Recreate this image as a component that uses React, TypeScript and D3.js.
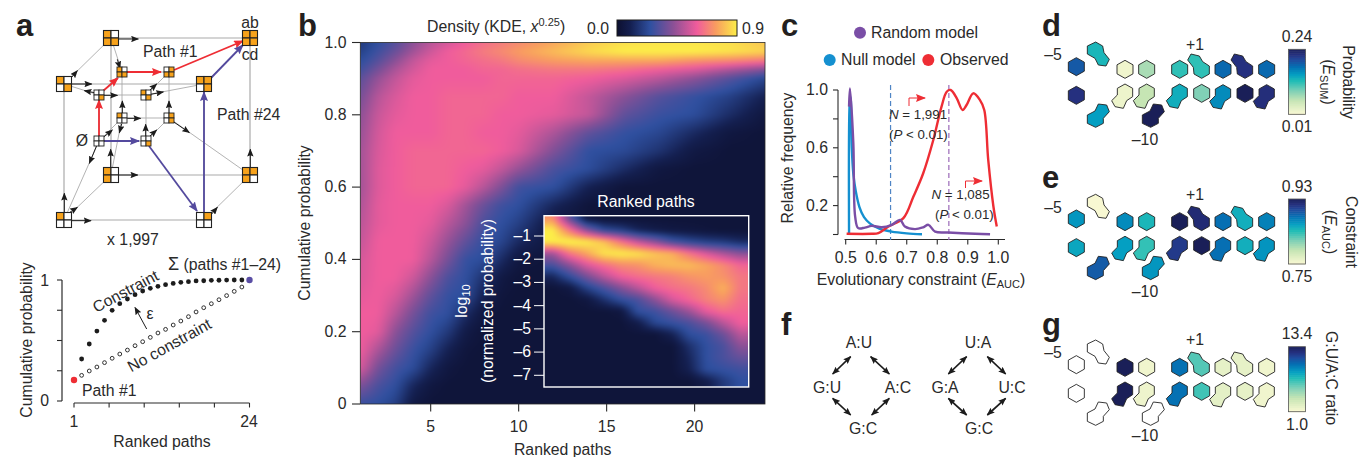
import React, { useMemo } from 'react';
import * as d3 from 'd3';

const FONT = '"Liberation Sans", Arial, sans-serif';
const INK = '#2a2a2a';

// --- panel a, ranked paths ---
const constraintProb = [0.174, 0.347, 0.471, 0.578, 0.667, 0.749, 0.804, 0.843, 0.879, 0.909, 0.931, 0.948, 0.961, 0.972, 0.981, 0.986, 0.992, 0.994, 0.997, 0.998, 0.999, 1, 1, 1];
const noConstraintProb = [0.174, 0.212, 0.248, 0.281, 0.317, 0.353, 0.388, 0.421, 0.457, 0.49, 0.526, 0.562, 0.592, 0.628, 0.661, 0.697, 0.736, 0.771, 0.804, 0.837, 0.871, 0.906, 0.942, 1];

// --- panel b, density ---
const heatRanks = [1, 2, 3, 4, 5, 6, 7, 8, 9, 10, 12, 14, 16, 18, 20, 22, 24];
const heatProbs = [1, 0.975, 0.95, 0.925, 0.9, 0.85, 0.8, 0.75, 0.7, 0.65, 0.6, 0.55, 0.5, 0.45, 0.4, 0.35, 0.3, 0.25, 0.2, 0.15, 0.1, 0.05, 0];
const heatValues = [
  [0.18, 0.25, 0.32, 0.42, 0.5, 0.55, 0.6, 0.64, 0.67, 0.7, 0.76, 0.83, 0.87, 0.88, 0.88, 0.87, 0.82],
  [0.2, 0.28, 0.36, 0.46, 0.54, 0.6, 0.63, 0.67, 0.7, 0.74, 0.8, 0.86, 0.9, 0.9, 0.9, 0.88, 0.85],
  [0.24, 0.32, 0.42, 0.52, 0.58, 0.6, 0.62, 0.64, 0.66, 0.7, 0.74, 0.76, 0.76, 0.76, 0.72, 0.7, 0.66],
  [0.28, 0.38, 0.48, 0.55, 0.6, 0.6, 0.6, 0.62, 0.62, 0.64, 0.66, 0.66, 0.64, 0.6, 0.56, 0.48, 0.4],
  [0.33, 0.44, 0.52, 0.58, 0.6, 0.6, 0.6, 0.6, 0.62, 0.62, 0.62, 0.6, 0.56, 0.5, 0.42, 0.32, 0.22],
  [0.38, 0.5, 0.56, 0.6, 0.6, 0.62, 0.62, 0.62, 0.62, 0.6, 0.6, 0.52, 0.42, 0.32, 0.26, 0.2, 0.1],
  [0.42, 0.53, 0.58, 0.6, 0.6, 0.62, 0.62, 0.62, 0.6, 0.6, 0.58, 0.52, 0.34, 0.27, 0.24, 0.14, 0.05],
  [0.44, 0.55, 0.6, 0.6, 0.6, 0.62, 0.62, 0.6, 0.6, 0.58, 0.48, 0.34, 0.26, 0.22, 0.13, 0.05, 0.03],
  [0.46, 0.56, 0.6, 0.62, 0.62, 0.62, 0.62, 0.62, 0.6, 0.56, 0.4, 0.25, 0.23, 0.16, 0.06, 0.03, 0.03],
  [0.46, 0.57, 0.6, 0.62, 0.62, 0.62, 0.6, 0.58, 0.52, 0.44, 0.3, 0.24, 0.14, 0.05, 0.03, 0.03, 0.03],
  [0.46, 0.57, 0.6, 0.62, 0.62, 0.62, 0.58, 0.5, 0.4, 0.28, 0.25, 0.1, 0.03, 0.03, 0.03, 0.03, 0.03],
  [0.48, 0.58, 0.6, 0.6, 0.6, 0.56, 0.46, 0.36, 0.28, 0.25, 0.12, 0.03, 0.03, 0.03, 0.03, 0.03, 0.03],
  [0.5, 0.58, 0.6, 0.6, 0.58, 0.5, 0.42, 0.3, 0.25, 0.2, 0.05, 0.03, 0.03, 0.03, 0.03, 0.03, 0.03],
  [0.52, 0.6, 0.6, 0.6, 0.54, 0.44, 0.34, 0.26, 0.22, 0.13, 0.04, 0.03, 0.03, 0.03, 0.03, 0.03, 0.03],
  [0.55, 0.6, 0.6, 0.6, 0.5, 0.38, 0.26, 0.24, 0.14, 0.05, 0.03, 0.03, 0.03, 0.03, 0.03, 0.03, 0.03],
  [0.56, 0.6, 0.6, 0.54, 0.42, 0.3, 0.25, 0.16, 0.06, 0.03, 0.03, 0.03, 0.03, 0.03, 0.03, 0.03, 0.03],
  [0.58, 0.6, 0.56, 0.46, 0.34, 0.26, 0.24, 0.1, 0.04, 0.03, 0.03, 0.03, 0.03, 0.03, 0.03, 0.03, 0.03],
  [0.6, 0.6, 0.5, 0.38, 0.28, 0.25, 0.14, 0.05, 0.03, 0.03, 0.03, 0.03, 0.03, 0.03, 0.03, 0.03, 0.03],
  [0.6, 0.58, 0.42, 0.32, 0.25, 0.18, 0.07, 0.03, 0.03, 0.03, 0.03, 0.03, 0.03, 0.03, 0.03, 0.03, 0.03],
  [0.6, 0.48, 0.36, 0.27, 0.2, 0.1, 0.04, 0.03, 0.03, 0.03, 0.03, 0.03, 0.03, 0.03, 0.03, 0.03, 0.03],
  [0.56, 0.38, 0.29, 0.24, 0.12, 0.05, 0.03, 0.03, 0.03, 0.03, 0.03, 0.03, 0.03, 0.03, 0.03, 0.03, 0.03],
  [0.4, 0.3, 0.25, 0.12, 0.05, 0.03, 0.03, 0.03, 0.03, 0.03, 0.03, 0.03, 0.03, 0.03, 0.03, 0.03, 0.03],
  [0.27, 0.25, 0.2, 0.06, 0.03, 0.03, 0.03, 0.03, 0.03, 0.03, 0.03, 0.03, 0.03, 0.03, 0.03, 0.03, 0.03],
];

// inset of b
const insetRanks = [1, 3, 5, 7, 9, 11, 13, 15, 17, 19, 21, 23];
const insetLogs = [-0.25, -0.75, -1.25, -1.75, -2.25, -2.75, -3.25, -3.75, -4.25, -4.75, -5.25, -5.75, -6.25, -6.75, -7.25];
const insetValues = [
  [0.72, 0.35, 0.06, 0.03, 0.03, 0.03, 0.03, 0.03, 0.03, 0.03, 0.03, 0.03],
  [0.9, 0.66, 0.42, 0.25, 0.2, 0.12, 0.08, 0.06, 0.05, 0.04, 0.03, 0.03],
  [0.9, 0.92, 0.9, 0.82, 0.66, 0.52, 0.42, 0.3, 0.24, 0.2, 0.18, 0.14],
  [0.46, 0.66, 0.76, 0.88, 0.9, 0.88, 0.82, 0.78, 0.66, 0.56, 0.48, 0.42],
  [0.3, 0.42, 0.56, 0.64, 0.7, 0.72, 0.78, 0.8, 0.8, 0.76, 0.7, 0.62],
  [0.12, 0.25, 0.38, 0.5, 0.6, 0.64, 0.66, 0.68, 0.72, 0.74, 0.72, 0.66],
  [0.03, 0.06, 0.2, 0.3, 0.4, 0.5, 0.6, 0.64, 0.66, 0.7, 0.78, 0.66],
  [0.03, 0.03, 0.05, 0.15, 0.25, 0.3, 0.42, 0.55, 0.62, 0.68, 0.72, 0.64],
  [0.03, 0.03, 0.03, 0.03, 0.05, 0.25, 0.28, 0.36, 0.45, 0.58, 0.64, 0.62],
  [0.03, 0.03, 0.03, 0.03, 0.03, 0.08, 0.22, 0.26, 0.3, 0.38, 0.5, 0.6],
  [0.03, 0.03, 0.03, 0.03, 0.03, 0.03, 0.03, 0.1, 0.24, 0.27, 0.36, 0.5],
  [0.03, 0.03, 0.03, 0.03, 0.03, 0.03, 0.03, 0.03, 0.15, 0.25, 0.3, 0.42],
  [0.03, 0.03, 0.03, 0.03, 0.03, 0.03, 0.03, 0.03, 0.12, 0.25, 0.3, 0.35],
  [0.03, 0.03, 0.03, 0.03, 0.03, 0.03, 0.03, 0.03, 0.1, 0.24, 0.26, 0.28],
  [0.03, 0.03, 0.03, 0.03, 0.03, 0.03, 0.03, 0.03, 0.03, 0.08, 0.18, 0.25],
];
const densityStops = [0, 0.1, 0.25, 0.42, 0.6, 0.74, 0.9];
const densityColors = ['#0d1030', '#141f50', '#2f50a0', '#8a5096', '#f05c9c', '#f89c60', '#fcee48'];

// --- panel c ---
const redX = [0.503, 0.585, 0.607, 0.64, 0.689, 0.722, 0.754, 0.787, 0.814, 0.831, 0.844, 0.864, 0.883, 0.896, 0.918, 0.94, 0.954, 0.967, 0.984, 0.995];
const redY = [0.005, 0.005, 0.01, 0.055, 0.113, 0.263, 0.424, 0.654, 0.885, 0.988, 1.0, 0.942, 0.862, 0.896, 0.977, 0.93, 0.862, 0.516, 0.194, 0.055];
const blueX = [0.511, 0.513, 0.516, 0.52, 0.525, 0.533, 0.545, 0.56, 0.58, 0.61, 0.65, 0.7, 0.75];
const blueY = [0.005, 0.9, 0.95, 0.6, 0.42, 0.3, 0.19, 0.12, 0.075, 0.04, 0.02, 0.008, 0.002];
const purpleX = [0.511, 0.514, 0.525, 0.531, 0.541, 0.563, 0.585, 0.618, 0.651, 0.678, 0.694, 0.727, 0.754, 0.771, 0.793, 0.836, 0.924, 0.973];
const purpleY = [0.885, 1.01, 0.631, 0.124, 0.044, 0.048, 0.06, 0.05, 0.067, 0.101, 0.055, 0.037, 0.05, 0.067, 0.02, 0.014, 0.005, 0.002];

// --- panels d, e, g (one value per motif position, null = no data) ---
const probabilityValues = [0.19, 0.13, 0.017, 0.07, 0.12, 0.12, 0.18, 0.217, 0.18, 0.217, 0.148, 0.02, 0.056, 0.24, 0.137, 0.09, 0.16, 0.24, 0.22];
const constraintValues = [0.862, 0.75, 0.867, 0.844, 0.93, 0.917, 0.88, 0.849, 0.872, 0.854, 0.89, 0.858, 0.835, 0.862, 0.907, 0.93, 0.88, 0.849, 0.863];
const ratioValues = [null, null, 13.4, 1.4, 9.9, 6.2, 1.9, 1.9, 1.4, null, null, 13.4, 1.5, null, 9.9, 6.6, 2.0, 1.9, 1.4];
const ylgnStops = [0, 0.2, 0.35, 0.5, 0.6, 0.72, 0.82, 0.9, 1];
const ylgnColors = ['#f8f8d2', '#c6e5b4', '#7fd0b6', '#22bdb6', '#049fc2', '#0570b3', '#1f4c9e', '#25307f', '#1a1f58'];

// outlines of the motif shapes, as read on the 3x zoom
const motifShapes = {
  hex: [[0, -27], [24, -13.5], [24, 13.5], [0, 27], [-24, 13.5], [-24, -13.5]],
  B: [[0, -24], [21, -12], [25, 8], [41, 28], [31, 48], [8, 45], [-2, 25], [-25, 12], [-25, -12]],
  C: [[23, -12], [23, 12], [0, 25], [-23, 12], [-25, -8], [-42, -30], [-32, -48], [-7, -42], [3, -25]],
  D: [[0, -26], [23, -13], [23, 12], [5, 24], [-5, 47], [-30, 42], [-40, 24], [-23, 7], [-23, -13]],
  E: [[-25, -13], [-2, -25], [8, -46], [33, -43], [41, -23], [23, -3], [23, 12], [0, 24], [-25, 12]],
};
const motifLayout = [
  ['hex', 139, 170], ['B', 197, 120], ['hex', 285, 178], ['hex', 350, 178], ['hex', 449, 178], ['C', 515, 180], ['hex', 579, 178], ['C', 645, 180], ['hex', 710, 178],
  ['hex', 139, 256], ['E', 197, 328], ['D', 285, 248], ['D', 350, 248], ['E', 362, 328], ['D', 449, 248], ['hex', 515, 250], ['D', 579, 250], ['hex', 645, 250], ['D', 710, 250],
];

// --- cube diagram of panel a ---
const outerNodes = [[111, 38, '1011'], [250, 38, '1111'], [64, 84, '1001'], [204, 84, '1101'], [111, 175, '1010'], [250, 175, '1110'], [64, 220, '1000'], [204, 220, '0100']];
const innerNodes = [[122, 72, '1011'], [169, 72, '0111'], [99, 95, '0001'], [146, 95, '1001'], [122, 118, '1000'], [169, 118, '0101'], [99, 141, '0000'], [146, 141, '0001']];
const cubeEdges = [
  [111, 38, 250, 38], [64, 84, 204, 84], [111, 175, 250, 175], [64, 220, 204, 220], [64, 84, 64, 220], [111, 38, 111, 175], [250, 38, 250, 175], [204, 84, 204, 220],
  [64, 84, 111, 38], [204, 84, 250, 38], [64, 220, 111, 175], [204, 220, 250, 175],
  [99, 95, 146, 95], [122, 72, 169, 72], [122, 118, 169, 118], [99, 141, 146, 141], [99, 95, 99, 141], [146, 95, 146, 141], [122, 72, 122, 118], [169, 72, 169, 118],
  [99, 95, 122, 72], [146, 95, 169, 72], [99, 141, 122, 118], [146, 141, 169, 118],
  [111, 38, 122, 72], [64, 84, 99, 95], [204, 84, 146, 95], [111, 175, 122, 118], [250, 175, 169, 118], [64, 220, 99, 141],
];
const redPath = [[99, 141, 99, 100], [103, 91, 118, 78], [127, 72, 161, 72], [174, 70, 243, 41]];
const purplePath = [[104, 141, 139, 141], [149, 146, 197, 211], [204, 213, 204, 92], [211, 78, 243, 45]];
// short black arrows (3x zoom coords)
const blackArrows = [
  [355, 117, 415, 117], [352, 178, 360, 205], [215, 252, 275, 252], [215, 232, 232, 212], [283, 278, 253, 272], [310, 286, 352, 286], [452, 283, 490, 276], [450, 270, 470, 252],
  [367, 340, 367, 303], [382, 355, 422, 355], [507, 340, 507, 303], [520, 365, 568, 398], [365, 372, 358, 398], [310, 412, 337, 390], [290, 437, 268, 490], [437, 410, 437, 373],
  [450, 408, 470, 390], [332, 505, 332, 448], [355, 525, 413, 525], [751, 505, 751, 448], [193, 640, 193, 580], [205, 640, 232, 622], [215, 662, 273, 662], [635, 642, 652, 622],
];

// --- panel f ---
const fLabels = [['A:U', 859, 348], ['G:U', 827, 393], ['A:C', 898, 393], ['G:C', 863, 434], ['U:A', 978, 348], ['G:A', 945, 393], ['U:C', 1012, 393], ['G:C', 979, 434]];
const fArrows = [
  [212, 170, 158, 222], [272, 170, 328, 222], [158, 295, 212, 345], [328, 295, 275, 345],
  [560, 170, 505, 222], [622, 170, 677, 222], [505, 295, 560, 345], [677, 295, 622, 345],
];

const densityColor = d3.scaleLinear<string>().domain(densityStops).range(densityColors).clamp(true);
const ylgn = d3.scaleLinear<string>().domain(ylgnStops).range(ylgnColors).clamp(true);
const densityLut = d3.range(0, 256).map((i) => d3.rgb(densityColor((i / 255) * 0.9)));

// paints the density grid to a canvas, resampled smoothly between the read values
function heatImage(xs: number[], ys: number[], values: number[][], x: any, y: any, box: number[]) {
  const [x0, y0, w, h] = box;
  const canvas = document.createElement('canvas');
  canvas.width = w;
  canvas.height = h;
  const ctx = canvas.getContext('2d')!;
  const img = ctx.createImageData(w, h);
  const col = d3.scaleLinear().domain(xs.map(x) as number[]).range(xs.map((_, i) => i)).clamp(true);
  const row = d3.scaleLinear().domain(ys.map(y) as number[]).range(ys.map((_, i) => i)).clamp(true);
  for (let py = 0; py < h; py++) {
    const r = row(y0 + py + 0.5);
    const r0 = Math.min(Math.floor(r), ys.length - 2);
    const fr = r - r0;
    for (let px = 0; px < w; px++) {
      const c = col(x0 + px + 0.5);
      const c0 = Math.min(Math.floor(c), xs.length - 2);
      const fc = c - c0;
      const top = values[r0][c0] * (1 - fc) + values[r0][c0 + 1] * fc;
      const bot = values[r0 + 1][c0] * (1 - fc) + values[r0 + 1][c0 + 1] * fc;
      const v = top * (1 - fr) + bot * fr;
      const rgb = densityLut[Math.max(0, Math.min(255, Math.round((v / 0.9) * 255)))];
      const k = (py * w + px) * 4;
      img.data[k] = rgb.r;
      img.data[k + 1] = rgb.g;
      img.data[k + 2] = rgb.b;
      img.data[k + 3] = 255;
    }
  }
  ctx.putImageData(img, 0, 0);
  return canvas.toDataURL();
}

function Node({ n, size }: any) {
  const [cx, cy, cells] = n;
  const h = size / 2;
  return (
    <g>
      {[0, 1, 2, 3].map((i) => (
        <rect
          key={i}
          x={cx - h + (i % 2) * h}
          y={cy - h + Math.floor(i / 2) * h}
          width={h}
          height={h}
          fill={cells[i] === '1' ? '#f7a21b' : '#fff'}
          stroke="#222"
          strokeWidth={size > 12 ? 1.1 : 0.9}
        />
      ))}
    </g>
  );
}

function MotifPanel({ dy, values, domain, top, labels, title, sub, low, high }: any) {
  const t = d3.scaleLinear().domain(domain).range([0, 1]);
  const steps = d3.range(0, 1, 1 / 32);
  const barY = d3.scaleLinear().domain([0, 1]).range([top + 65, top]);
  const line = d3.line().curve(d3.curveLinearClosed);
  return (
    <g>
      {motifLayout.map((m: any, i) => {
        const pts = motifShapes[m[0]].map((p: number[]) => [1030 + (m[1] + p[0]) / 3, 10 + dy + (m[2] + p[1]) / 3]);
        const v = values[i];
        return <path key={i} d={line(pts)!} fill={v === null ? '#fff' : ylgn(t(v))} stroke="#222" strokeWidth={0.9} strokeLinejoin="round" />;
      })}
      <text x={1053} y={60 + labels[0]} textAnchor="middle">–5</text>
      <text x={1195} y={50 + labels[1]} textAnchor="middle">+1</text>
      <text x={1145} y={145 + labels[2]} textAnchor="middle">–10</text>
      {steps.map((s) => (
        <rect key={s} x={1288.5} y={barY(s + 1 / 32)} width={17} height={barY(s) - barY(s + 1 / 32) + 0.5} fill={ylgn(s)} />
      ))}
      <rect x={1288.5} y={top} width={17} height={65} fill="none" stroke="#555" strokeWidth={0.8} />
      <text x={1297} y={top - 7.5} textAnchor="middle">{high}</text>
      <text x={1297} y={top + 83} textAnchor="middle">{low}</text>
      {title}
      {sub}
    </g>
  );
}

function Sub({ x, y, sub }: any) {
  return (
    <text transform={`translate(${x},${y}) rotate(90)`} textAnchor="middle">
      (<tspan fontStyle="italic">E</tspan>
      <tspan fontSize={11} dy={3}>{sub}</tspan>
      <tspan dy={-3}>)</tspan>
    </text>
  );
}

export default function App() {
  // a, lower chart
  const xA = d3.scaleLinear().domain([1, 24]).range([74, 249.5]);
  const yA = d3.scaleLinear().domain([0, 1]).range([401, 280]);
  const ranksA = d3.range(1, 25);

  // b
  const xB = d3.scaleLinear().domain([1, 24]).range([360.3, 765]);
  const yB = d3.scaleLinear().domain([0, 1]).range([404, 42.5]);
  const yIn = d3.scaleLinear().domain([-1, -7]).range([236, 375.3]);
  const xInCells = d3.scaleLinear().domain([1, 23]).range([552.5, 740.2]);
  const mainBox = [340, 22, 445, 402];
  const insetBox = [530, 200, 235, 200];
  const mainHref = useMemo(() => heatImage(heatRanks, heatProbs, heatValues, xB, yB, mainBox), []);
  const insetHref = useMemo(() => heatImage(insetRanks, insetLogs, insetValues, xInCells, yIn, insetBox), []);

  // c
  const xC = d3.scaleLinear().domain([0.5, 1]).range([845.7, 998.3]);
  const yC = d3.scaleLinear().domain([0, 1]).range([234.5, 90]);
  const curve = (xs: number[], ys: number[]) =>
    d3.line<number>().x((d) => xC(d)).y((_, i) => yC(ys[i])).curve(d3.curveCatmullRom.alpha(0.5))(xs)!;

  return (
    <svg width={1359} height={457} style={{ position: 'absolute', left: 0, top: 0, background: '#fff' }} fontFamily={FONT} fontSize={15.8} fill={INK}>
      <defs>
        {[['black', '#1c1c1c', 8], ['red', '#ee2d34', 10], ['purple', '#544a9e', 10]].map(([id, c, s]: any) => (
          <marker key={id} id={'ar-' + id} viewBox="0 0 10 8" refX={9} refY={4} markerUnits="userSpaceOnUse" markerWidth={s} markerHeight={s * 0.8} orient="auto-start-reverse">
            <path d="M0,0 L10,4 L0,8 L1.5,4 Z" fill={c} />
          </marker>
        ))}
        <linearGradient id="densityBar">
          {densityStops.map((s, i) => (
            <stop key={s} offset={s / 0.9} stopColor={densityColors[i]} />
          ))}
        </linearGradient>
        <filter id="blurMain" filterUnits="userSpaceOnUse" x={300} y={0} width={530} height={460} colorInterpolationFilters="sRGB">
          <feGaussianBlur stdDeviation="4 2" />
        </filter>
        <filter id="blurInset" filterUnits="userSpaceOnUse" x={490} y={170} width={310} height={270} colorInterpolationFilters="sRGB">
          <feGaussianBlur stdDeviation="2.5 2" />
        </filter>
        <clipPath id="clipMain">
          <rect x={xB(1)} y={yB(1)} width={xB(24) - xB(1)} height={yB(0) - yB(1)} />
        </clipPath>
        <clipPath id="clipInset">
          <rect x={544} y={215.7} width={204.7} height={171.3} />
        </clipPath>
      </defs>

      {/* panel letters */}
      <g fontWeight="bold" fontSize={31} fill="#231f20">
        <text x={16} y={36}>a</text>
        <text x={298} y={36}>b</text>
        <text x={781} y={36}>c</text>
        <text x={1042} y={36}>d</text>
        <text x={1042} y={188}>e</text>
        <text x={781} y={335}>f</text>
        <text x={1042} y={335}>g</text>
      </g>

      {/* a: cube */}
      {cubeEdges.map((e, i) => (
        <line key={i} x1={e[0]} y1={e[1]} x2={e[2]} y2={e[3]} stroke="#aaa" strokeWidth={i < 8 ? 1.2 : 0.9} />
      ))}
      {blackArrows.map((a, i) => (
        <line key={i} x1={a[0] / 3} y1={a[1] / 3} x2={a[2] / 3} y2={a[3] / 3} stroke="#1c1c1c" strokeWidth={1} markerEnd="url(#ar-black)" />
      ))}
      {redPath.map((a, i) => (
        <line key={i} x1={a[0]} y1={a[1]} x2={a[2]} y2={a[3]} stroke="#ee2d34" strokeWidth={1.8} markerEnd="url(#ar-red)" />
      ))}
      {purplePath.map((a, i) => (
        <line key={i} x1={a[0]} y1={a[1]} x2={a[2]} y2={a[3]} stroke="#544a9e" strokeWidth={1.8} markerEnd="url(#ar-purple)" />
      ))}
      {outerNodes.map((n, i) => <Node key={i} n={n} size={15} />)}
      {innerNodes.map((n, i) => <Node key={i} n={n} size={10} />)}
      <text x={250} y={28} textAnchor="middle">ab</text>
      <text x={250} y={60} textAnchor="middle">cd</text>
      <text x={143} y={57}>Path #1</text>
      <text x={217} y={120}>Path #24</text>
      <text x={82} y={146} textAnchor="middle">Ø</text>
      <text x={133} y={245} textAnchor="middle">x 1,997</text>

      {/* a: cumulative curves */}
      <line x1={62} x2={62} y1={yA(1)} y2={yA(0)} stroke={INK} strokeWidth={1.2} />
      {[0, 0.25, 0.5, 0.75, 1].map((t) => (
        <line key={t} x1={57} x2={62} y1={yA(t)} y2={yA(t)} stroke={INK} strokeWidth={1.1} />
      ))}
      <line x1={xA(1)} x2={xA(24)} y1={403} y2={403} stroke={INK} strokeWidth={1.2} />
      {[1, 5.6, 10.2, 14.8, 19.4, 24].map((t) => (
        <line key={t} x1={xA(t)} x2={xA(t)} y1={403} y2={407.5} stroke={INK} strokeWidth={1.1} />
      ))}
      {ranksA.slice(1, 23).map((r) => (
        <circle key={r} cx={xA(r)} cy={yA(noConstraintProb[r - 1])} r={1.9} fill="#fff" stroke="#1c1c1c" strokeWidth={0.9} />
      ))}
      {ranksA.slice(1, 23).map((r) => (
        <circle key={r} cx={xA(r)} cy={yA(constraintProb[r - 1])} r={2.4} fill="#1c1c1c" />
      ))}
      <circle cx={xA(1)} cy={yA(constraintProb[0])} r={3.2} fill="#ee2d34" />
      <circle cx={xA(24)} cy={yA(1)} r={3.2} fill="#5a4ea5" />
      <text transform="translate(32,340) rotate(-90)" textAnchor="middle">Cumulative probability</text>
      <text x={49} y={285.5} textAnchor="end">1</text>
      <text x={49} y={405.5} textAnchor="end">0</text>
      <text x={74} y={427} textAnchor="middle">1</text>
      <text x={249} y={427} textAnchor="middle">24</text>
      <text x={162} y={447} textAnchor="middle">Ranked paths</text>
      <text x={82} y={396}>Path #1</text>
      <text x={168} y={270}><tspan fontSize={18}>Σ</tspan> (paths #1–24)</text>
      <text transform="translate(128,296) rotate(-28)" textAnchor="middle">Constraint</text>
      <text transform="translate(172,350) rotate(-29)" textAnchor="middle">No constraint</text>
      <line x1={146.7} y1={329} x2={135} y2={307.5} stroke="#1c1c1c" strokeWidth={1} markerEnd="url(#ar-black)" />
      <text x={150} y={319} textAnchor="middle">ε</text>

      {/* b: density */}
      <g clipPath="url(#clipMain)">
        <image href={mainHref} x={mainBox[0]} y={mainBox[1]} width={mainBox[2]} height={mainBox[3]} filter="url(#blurMain)" />
      </g>
      <rect x={xB(1)} y={yB(1)} width={xB(24) - xB(1)} height={yB(0) - yB(1)} fill="none" stroke="#2a2a2a" strokeWidth={0.8} />
      {[0, 0.2, 0.4, 0.6, 0.8, 1].map((t) => (
        <g key={t}>
          <line x1={352} x2={360} y1={yB(t)} y2={yB(t)} stroke={INK} strokeWidth={1.1} />
          <text x={346.5} y={yB(t) + 5} textAnchor="end">{t === 0 ? '0' : t.toFixed(1)}</text>
        </g>
      ))}
      {[5, 10, 15, 20].map((t) => (
        <g key={t}>
          <line x1={xB(t)} x2={xB(t)} y1={404} y2={411.5} stroke={INK} strokeWidth={1.1} />
          <text x={xB(t)} y={432} textAnchor="middle">{t}</text>
        </g>
      ))}
      <text x={562.7} y={455} textAnchor="middle">Ranked paths</text>
      <text transform="translate(310,223) rotate(-90)" textAnchor="middle">Cumulative probability</text>
      <text x={427} y={32}>
        Density (KDE, <tspan fontStyle="italic">x</tspan>
        <tspan fontSize={11} dy={-6}>0.25</tspan>
        <tspan dy={6}>)</tspan>
      </text>
      <text x={598} y={34} textAnchor="middle">0.0</text>
      <rect x={617} y={20} width={120} height={16} fill="url(#densityBar)" stroke="#1c1c1c" strokeWidth={1} />
      <text x={753} y={34} textAnchor="middle">0.9</text>

      {/* b: inset */}
      <g clipPath="url(#clipInset)">
        <image href={insetHref} x={insetBox[0]} y={insetBox[1]} width={insetBox[2]} height={insetBox[3]} filter="url(#blurInset)" />
      </g>
      <rect x={544} y={215.7} width={204.7} height={171.3} fill="none" stroke="#fff" strokeWidth={1.4} />
      <text x={646} y={207} textAnchor="middle" fill="#fff">Ranked paths</text>
      {[-1, -2, -3, -4, -5, -6, -7].map((t) => (
        <g key={t}>
          <line x1={534} x2={544} y1={yIn(t)} y2={yIn(t)} stroke="#fff" strokeWidth={1} />
          <text x={531} y={yIn(t) + 5} textAnchor="end" fill="#fff">{'–' + Math.abs(t)}</text>
        </g>
      ))}
      <text transform="translate(467,301) rotate(-90)" textAnchor="middle" fill="#fff">
        log<tspan fontSize={11} dy={3}>10</tspan>
      </text>
      <text transform="translate(493,301) rotate(-90)" textAnchor="middle" fill="#fff">(normalized probability)</text>

      {/* c */}
      <circle cx={860} cy={32.7} r={6} fill="#7a4ea6" />
      <text x={871} y={37.5}>Random model</text>
      <circle cx={829.7} cy={60} r={6} fill="#1590d0" />
      <text x={841} y={65}>Null model</text>
      <circle cx={928.3} cy={60} r={6} fill="#ee2d34" />
      <text x={940} y={65}>Observed</text>
      <line x1={838} x2={838} y1={yC(1)} y2={yC(0)} stroke={INK} strokeWidth={1.1} />
      {[0, 0.2, 0.4, 0.6, 0.8, 1].map((t) => (
        <line key={t} x1={833} x2={838} y1={yC(t)} y2={yC(t)} stroke={INK} strokeWidth={1.1} />
      ))}
      <line x1={844.5} x2={1005} y1={239.5} y2={239.5} stroke={INK} strokeWidth={1.1} />
      {[0.5, 0.6, 0.7, 0.8, 0.9, 1].map((t) => (
        <g key={t}>
          <line x1={xC(t)} x2={xC(t)} y1={239.5} y2={244.5} stroke={INK} strokeWidth={1.1} />
          <text x={xC(t)} y={263} textAnchor="middle">{t.toFixed(1)}</text>
        </g>
      ))}
      {[0.2, 0.6, 1].map((t) => (
        <text key={t} x={828} y={yC(t) + 5} textAnchor="end">{t.toFixed(1)}</text>
      ))}
      <text transform="translate(793,158) rotate(-90)" textAnchor="middle">Relative frequency</text>
      <text x={921} y={285} textAnchor="middle">
        Evolutionary constraint (<tspan fontStyle="italic">E</tspan>
        <tspan fontSize={11} dy={3}>AUC</tspan>
        <tspan dy={-3}>)</tspan>
      </text>
      <line x1={xC(0.647)} x2={xC(0.647)} y1={85} y2={240} stroke="#4f85c5" strokeWidth={1.2} strokeDasharray="5 3" />
      <line x1={xC(0.838)} x2={xC(0.838)} y1={85} y2={240} stroke="#9b6ab8" strokeWidth={1.2} strokeDasharray="5 3" />
      <path d={curve(blueX, blueY)} fill="none" stroke="#1590d0" strokeWidth={2.4} />
      <path d={curve(redX, redY)} fill="none" stroke="#ee2d34" strokeWidth={2.4} />
      <path d={curve(purpleX, purpleY)} fill="none" stroke="#7a4ea6" strokeWidth={2.4} />
      <g fontSize={13.3}>
        <text x={889} y={118.5}><tspan fontStyle="italic">N</tspan> = 1,991</text>
        <text x={889} y={138.5}>(<tspan fontStyle="italic">P</tspan> &lt; 0.01)</text>
        <text x={931.5} y={198.5}><tspan fontStyle="italic">N</tspan> = 1,085</text>
        <text x={935} y={219}>(<tspan fontStyle="italic">P</tspan> &lt; 0.01)</text>
      </g>
      <polyline points="909,106 909,98 925,98" fill="none" stroke="#ee2d34" strokeWidth={1} markerEnd="url(#ar-red)" />
      <polyline points="965.5,188 965.5,181 982,181" fill="none" stroke="#ee2d34" strokeWidth={1} markerEnd="url(#ar-red)" />

      {/* f */}
      {fLabels.map((l, i) => (
        <text key={i} x={l[1] as number} y={l[2] as number} textAnchor="middle">{l[0]}</text>
      ))}
      {fArrows.map((a, i) => (
        <line key={i} x1={780 + a[0] / 3} y1={300 + a[1] / 3} x2={780 + a[2] / 3} y2={300 + a[3] / 3} stroke="#1c1c1c" strokeWidth={1.7} markerStart="url(#ar-black)" markerEnd="url(#ar-black)" />
      ))}

      {/* d, e, g */}
      <MotifPanel
        dy={0}
        values={probabilityValues}
        domain={[0.01, 0.24]}
        top={49.3}
        labels={[0, 0, 0]}
        high="0.24"
        low="0.01"
        title={<text transform="translate(1343,82) rotate(90)" textAnchor="middle">Probability</text>}
        sub={<Sub x={1323} y={82} sub="SUM" />}
      />
      <MotifPanel
        dy={152.3}
        values={constraintValues}
        domain={[0.75, 0.93]}
        top={199}
        labels={[153, 150, 152]}
        high="0.93"
        low="0.75"
        title={<text transform="translate(1346,232) rotate(90)" textAnchor="middle">Constraint</text>}
        sub={<Sub x={1325} y={232} sub="AUC" />}
      />
      <MotifPanel
        dy={298}
        values={ratioValues}
        domain={[1, 13.4]}
        top={346.7}
        labels={[298, 295, 296]}
        high="13.4"
        low="1.0"
        title={<text transform="translate(1326,378) rotate(90)" textAnchor="middle">G:U/A:C ratio</text>}
        sub={null}
      />
    </svg>
  );
}
